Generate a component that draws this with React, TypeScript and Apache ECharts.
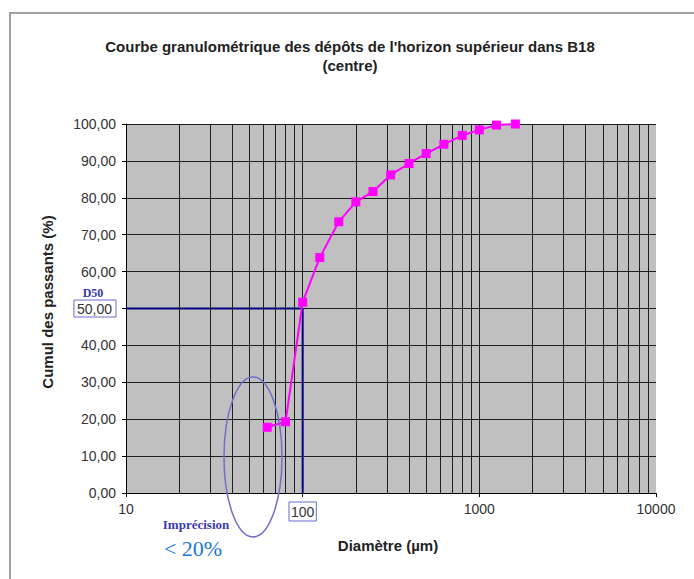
import React, { useEffect, useRef } from "react";
import * as echarts from "echarts";

// Courbe granulométrique – horizon supérieur, B18 (centre)
const diametres = [63, 80, 100, 125, 160, 200, 250, 315, 400, 500, 630, 800, 1000, 1250, 1600];
const passants = [17.8, 19.3, 51.7, 63.8, 73.5, 78.9, 81.7, 86.2, 89.3, 92.0, 94.5, 96.9, 98.4, 99.7, 100.0];

// Intermediate log grid lines (2..9 of each decade)
const gridDiametres = [
  20, 30, 40, 50, 60, 70, 80, 90,
  200, 300, 400, 500, 600, 700, 800, 900,
  2000, 3000, 4000, 5000, 6000, 7000, 8000, 9000,
];

const d50Valeur = 50;
const d50Diametre = 100;
const xMin = 10;
const xMax = 10000;

const SANS = "'Liberation Sans', Arial, sans-serif";
const SERIF = "'Liberation Serif', 'Times New Roman', serif";

const fmt = (v: number) => v.toFixed(2).replace(".", ",");

export default function App() {
  const ref = useRef<HTMLDivElement>(null);

  useEffect(() => {
    if (!ref.current) return;
    const chart = echarts.init(ref.current, undefined, { renderer: "svg" });

    chart.setOption({
      animation: false,
      backgroundColor: "#ffffff",
      grid: {
        left: 126,
        right: 38,
        top: 124,
        bottom: 86,
        show: true,
        backgroundColor: "#c0c0c0",
        borderWidth: 0,
      },
      xAxis: {
        type: "log",
        logBase: 10,
        min: xMin,
        max: xMax,
        axisLine: { show: true, lineStyle: { color: "#000", width: 1 } },
        axisTick: { show: true, length: 4, lineStyle: { color: "#000" } },
        splitLine: { show: true, showMaxLine: false, lineStyle: { color: "#1e1e1e", width: 1 } },
        axisLabel: {
          fontFamily: SANS,
          fontSize: 14,
          color: "#333",
          margin: 9,
          formatter: (v: number) => (v === d50Diametre ? `{box|${v}}` : `${v}`),
          rich: {
            box: {
              fontFamily: SANS,
              fontSize: 14,
              color: "#333",
              borderColor: "#6a6ad0",
              borderWidth: 1,
              padding: [3, 2, 2, 2],
            },
          },
        },
      },
      yAxis: {
        type: "value",
        min: 0,
        max: 100,
        interval: 10,
        axisLine: { show: true, lineStyle: { color: "#000", width: 1 } },
        axisTick: { show: true, length: 4, lineStyle: { color: "#000" } },
        splitLine: { show: true, lineStyle: { color: "#1e1e1e", width: 1 } },
        axisLabel: {
          fontFamily: SANS,
          fontSize: 14,
          color: "#333",
          margin: 10,
          formatter: (v: number) => (v === d50Valeur ? `{box|${fmt(v)}}` : fmt(v)),
          rich: {
            box: {
              fontFamily: SANS,
              fontSize: 14,
              color: "#333",
              borderColor: "#6a6ad0",
              borderWidth: 1,
              padding: [2, 4, 1, 3],
            },
          },
        },
      },
      series: [
        {
          // intermediate vertical grid lines of the log scale
          type: "line",
          data: [],
          silent: true,
          z: 1,
          markLine: {
            silent: true,
            symbol: ["none", "none"],
            label: { show: false },
            lineStyle: { color: "#1e1e1e", width: 1, type: "solid" },
            data: gridDiametres.map((d) => ({ xAxis: d })),
          },
        },
        {
          // D50 construction lines
          type: "line",
          data: [
            [xMin, d50Valeur],
            [d50Diametre, d50Valeur],
            [d50Diametre, 0],
          ],
          showSymbol: false,
          symbol: "none",
          silent: true,
          z: 3,
          lineStyle: { color: "#000080", width: 2 },
        },
        {
          type: "line",
          data: diametres.map((d, i) => [d, passants[i]]),
          symbol: "rect",
          symbolSize: 9,
          z: 5,
          lineStyle: { color: "#ff00ff", width: 2 },
          itemStyle: { color: "#ff00ff" },
        },
      ],
      graphic: [
        {
          type: "rect",
          shape: { x: 10, y: 13, width: 720, height: 620 },
          style: { fill: "none", stroke: "#a0a0a0", lineWidth: 2 },
          silent: true,
        },
        {
          type: "text",
          x: 350,
          y: 55.5,
          style: {
            text: "Courbe granulométrique des dépôts de l'horizon supérieur dans B18\n(centre)",
            font: `bold 15px ${SANS}`,
            fill: "#222",
            align: "center",
            verticalAlign: "middle",
            lineHeight: 19,
          },
        },
        {
          type: "text",
          x: 47,
          y: 302,
          rotation: Math.PI / 2,
          style: {
            text: "Cumul des passants (%)",
            font: `bold 15px ${SANS}`,
            fill: "#222",
            align: "center",
            verticalAlign: "middle",
          },
        },
        {
          type: "text",
          x: 388,
          y: 545,
          style: {
            text: "Diamètre (µm)",
            font: `bold 15px ${SANS}`,
            fill: "#222",
            align: "center",
            verticalAlign: "middle",
          },
        },
        {
          type: "text",
          x: 93,
          y: 293,
          style: {
            text: "D50",
            font: `bold 12px ${SERIF}`,
            fill: "#3535b0",
            align: "center",
            verticalAlign: "middle",
          },
        },
        {
          type: "ellipse",
          shape: { cx: 253, cy: 457, rx: 29, ry: 80 },
          style: { fill: "none", stroke: "#7070c8", lineWidth: 1.5 },
          silent: true,
          z: 10,
        },
        {
          type: "text",
          x: 196,
          y: 524,
          style: {
            text: "Imprécision",
            font: `bold 13px ${SERIF}`,
            fill: "#3a3ab8",
            align: "center",
            verticalAlign: "middle",
          },
        },
        {
          type: "text",
          x: 193,
          y: 548,
          style: {
            text: "< 20%",
            font: `22px ${SERIF}`,
            fill: "#2277d0",
            align: "center",
            verticalAlign: "middle",
          },
        },
      ],
    });

    return () => chart.dispose();
  }, []);

  return (
    <div
      ref={ref}
      style={{ position: "fixed", left: 0, top: 0, width: 694, height: 579 }}
    />
  );
}
